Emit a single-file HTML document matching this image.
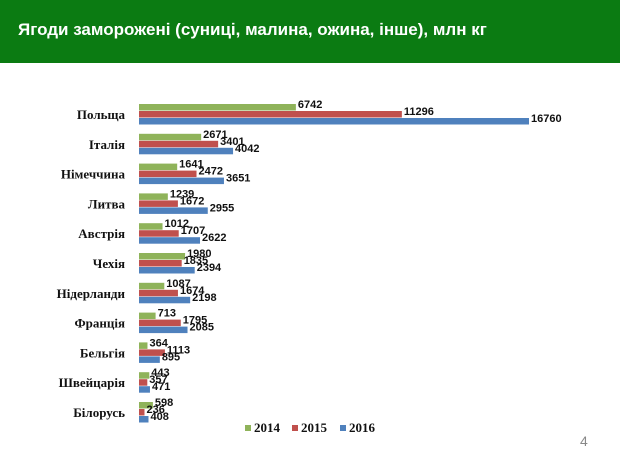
<!DOCTYPE html>
<html><head><meta charset="utf-8"><style>
body{margin:0;width:620px;height:465px;background:#fff;overflow:hidden;position:relative;font-family:"Liberation Sans",sans-serif}
#hdr{position:absolute;left:0;top:0;width:620px;height:63px;background:#0b7b12}
#title{position:absolute;left:18px;top:20px;color:#fff;font-weight:bold;font-size:17px;white-space:nowrap}
#pg{position:absolute;left:580px;top:433px;color:#888;font-size:14px}
</style></head><body>
<div id="hdr"><div id="title">Ягоди заморожені (суниці, малина, ожина, інше), млн кг</div></div>
<svg id="chart" width="620" height="465" style="position:absolute;left:0;top:0"></svg>
<div id="pg">4</div>
<script>
const categories=["Польща","Італія","Німеччина","Литва","Австрія","Чехія","Нідерланди","Франція","Бельгія","Швейцарія","Білорусь"];
const v2014=[6742,2671,1641,1239,1012,1980,1087,713,364,443,598];
const v2015=[11296,3401,2472,1672,1707,1835,1674,1795,1113,357,236];
const v2016=[16760,4042,3651,2955,2622,2394,2198,2085,895,471,408];
const seriesNames=["2014","2015","2016"];
const colors=["#8fb35a","#c0504d","#4f81bd"];
const NS="http://www.w3.org/2000/svg";
const svg=document.getElementById('chart');
const x0=139,x1=529,xmax=16760;
const xs=v=>x0+v/xmax*(x1-x0);
const gTop=i=>104+i*29.8;
const bh=7;
function mk(t,a){const e=document.createElementNS(NS,t);for(const k in a)e.setAttribute(k,a[k]);svg.appendChild(e);return e;}
const series=[v2014,v2015,v2016];
categories.forEach((c,i)=>{
  const t=mk('text',{x:125,y:gTop(i)+15,'text-anchor':'end','font-family':'Liberation Serif, serif','font-weight':'bold','font-size':13,fill:'#111'});
  t.textContent=c;
  
  
  series.forEach((s,j)=>{
    const y=gTop(i)+j*bh;
    const r=mk('rect',{x:x0,y:y,width:xs(s[i])-x0,height:bh-0.5,fill:colors[j]});
    
    
    const l=mk('text',{x:xs(s[i])+2,y:y+4,'font-weight':'bold','font-size':11,fill:'#111','font-family':'Liberation Sans, sans-serif'});
    l.textContent=s[i];
    
    
  });
});
const lx=[245,292,340];
seriesNames.forEach((n,j)=>{
  const r=mk('rect',{x:lx[j],y:425,width:6,height:6,fill:colors[j]});
  
  
  const t=mk('text',{x:lx[j]+9,y:432,'font-family':'Liberation Serif, serif','font-weight':'bold','font-size':13,fill:'#111'});
  t.textContent=n;
  
  
});
</script>
</body></html>
